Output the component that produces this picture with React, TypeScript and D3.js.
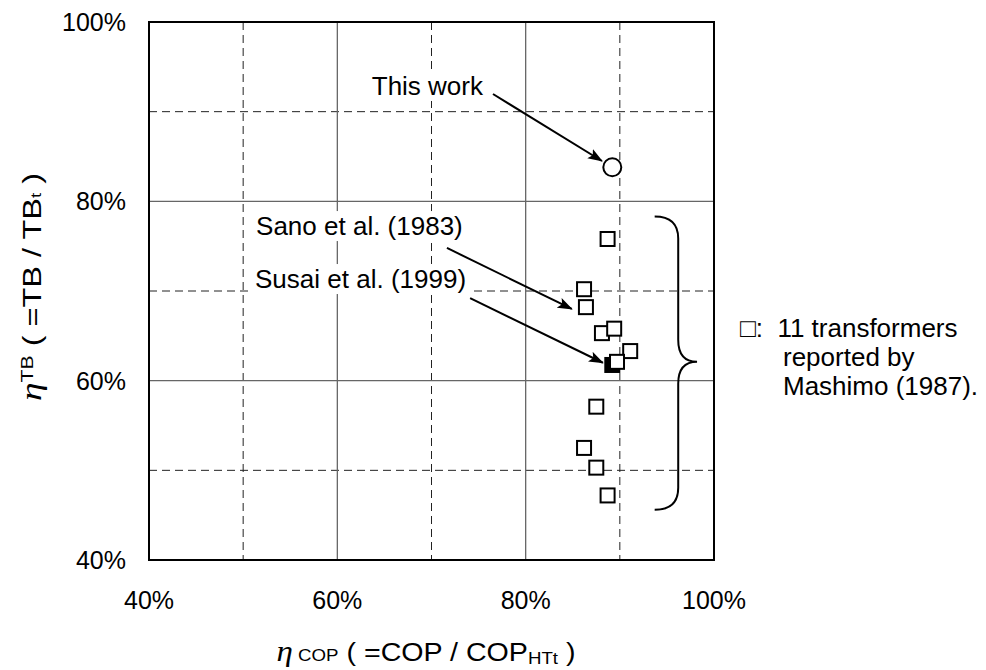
import { useEffect, useRef } from 'react';
import * as d3 from 'd3';

const WIDTH = 986;
const HEIGHT = 670;
const margin = { top: 22, right: 272, bottom: 110, left: 149 };

// axis values (fractions, shown as %)
const X_TICKS = [0.4, 0.6, 0.8, 1.0];
const Y_TICKS = [0.4, 0.6, 0.8, 1.0];
const MAJOR_GRID = [0.6, 0.8];
const MINOR_GRID = [0.5, 0.7, 0.9];

// 11 transformers reported by Mashimo (1987)
const MASHIMO_X = [0.887, 0.862, 0.864, 0.881, 0.894, 0.911, 0.897, 0.875, 0.862, 0.875, 0.887];
const MASHIMO_Y = [0.758, 0.702, 0.682, 0.653, 0.658, 0.633, 0.621, 0.571, 0.525, 0.503, 0.472];

// Susai et al. (1999), filled square
const SUSAI_X = [0.892];
const SUSAI_Y = [0.6175];

// this work, open circle
const THIS_WORK_X = [0.892];
const THIS_WORK_Y = [0.838];

// annotation labels: text, anchor point, arrow start, arrow end
const NOTE_LABELS = ['This work', 'Sano et al. (1983)', 'Susai et al. (1999)'];
const NOTE_ANCHOR: ('start' | 'end')[] = ['end', 'start', 'start'];
const NOTE_TEXT_POS = [[0.7547, 0.9186], [0.5137, 0.7624], [0.5126, 0.7033]];
const NOTE_ARROW_FROM = [[0.7653, 0.9197], [0.7164, 0.748], [0.741, 0.692]];
const NOTE_ARROW_TO = [[0.881, 0.845], [0.849, 0.68], [0.882, 0.62]];

// brace grouping Mashimo's points: x of ends / stem / tip, y of top / tip / bottom
const BRACE_X = [0.937, 0.962, 0.982];
const BRACE_Y = [0.783, 0.621, 0.456];

const LEGEND_LINES = ['\u25A1:  11 transformers', 'reported by', 'Mashimo (1987).'];

const SANS = "'Liberation Sans', Arial, Helvetica, sans-serif";
const SERIF = "'Liberation Serif', 'Times New Roman', serif";

export default function App() {
  const svgRef = useRef<SVGSVGElement>(null);

  useEffect(() => {
    if (!svgRef.current) return;
    const svg = d3.select(svgRef.current);
    svg.selectAll('*').remove();

    const innerW = WIDTH - margin.left - margin.right;
    const innerH = HEIGHT - margin.top - margin.bottom;

    const x = d3.scaleLinear().domain([0.4, 1.0]).range([0, innerW]);
    const y = d3.scaleLinear().domain([0.4, 1.0]).range([innerH, 0]);
    const pct = d3.format('.0%');

    const defs = svg.append('defs');
    defs.append('marker')
      .attr('id', 'arrow-head')
      .attr('viewBox', '0 0 14 10')
      .attr('refX', 13)
      .attr('refY', 5)
      .attr('markerUnits', 'userSpaceOnUse')
      .attr('markerWidth', 15)
      .attr('markerHeight', 11)
      .attr('orient', 'auto')
      .append('path')
      .attr('d', 'M0,0 L14,5 L0,10 L3,5 Z')
      .attr('fill', '#000');

    const g = svg.append('g').attr('transform', `translate(${margin.left},${margin.top})`);

    // grid
    g.selectAll('.vmin').data(MINOR_GRID).join('line')
      .attr('x1', d => x(d)).attr('x2', d => x(d))
      .attr('y1', 0).attr('y2', innerH)
      .attr('stroke', '#222').attr('stroke-width', 1).attr('stroke-dasharray', '8,5');
    g.selectAll('.hmin').data(MINOR_GRID).join('line')
      .attr('y1', d => y(d)).attr('y2', d => y(d))
      .attr('x1', 0).attr('x2', innerW)
      .attr('stroke', '#222').attr('stroke-width', 1).attr('stroke-dasharray', '8,5');
    g.selectAll('.vmaj').data(MAJOR_GRID).join('line')
      .attr('x1', d => x(d)).attr('x2', d => x(d))
      .attr('y1', 0).attr('y2', innerH)
      .attr('stroke', '#666').attr('stroke-width', 1.3);
    g.selectAll('.hmaj').data(MAJOR_GRID).join('line')
      .attr('y1', d => y(d)).attr('y2', d => y(d))
      .attr('x1', 0).attr('x2', innerW)
      .attr('stroke', '#666').attr('stroke-width', 1.3);

    // frame
    g.append('rect')
      .attr('width', innerW).attr('height', innerH)
      .attr('fill', 'none').attr('stroke', '#000').attr('stroke-width', 2);

    // tick labels
    g.selectAll('.xt').data(X_TICKS).join('text')
      .attr('x', d => x(d)).attr('y', innerH + 49)
      .attr('text-anchor', 'middle')
      .attr('font-family', SANS).attr('font-size', 25)
      .text(d => pct(d));
    g.selectAll('.yt').data(Y_TICKS).join('text')
      .attr('x', -23).attr('y', d => y(d) + 9)
      .attr('text-anchor', 'end')
      .attr('font-family', SANS).attr('font-size', 25)
      .text(d => pct(d));

    // arrows
    NOTE_LABELS.forEach((_, i) => {
      g.append('line')
        .attr('x1', x(NOTE_ARROW_FROM[i][0])).attr('y1', y(NOTE_ARROW_FROM[i][1]))
        .attr('x2', x(NOTE_ARROW_TO[i][0])).attr('y2', y(NOTE_ARROW_TO[i][1]))
        .attr('stroke', '#000').attr('stroke-width', 2)
        .attr('marker-end', 'url(#arrow-head)');
    });

    // labels with white backgrounds
    NOTE_LABELS.forEach((label, i) => {
      const t = g.append('text')
        .attr('x', x(NOTE_TEXT_POS[i][0])).attr('y', y(NOTE_TEXT_POS[i][1]))
        .attr('text-anchor', NOTE_ANCHOR[i])
        .attr('font-family', SANS).attr('font-size', 26)
        .text(label);
      const box = (t.node() as SVGTextElement).getBBox();
      g.insert('rect', () => t.node())
        .attr('x', box.x - 3).attr('y', box.y)
        .attr('width', box.width + 6).attr('height', box.height)
        .attr('fill', '#fff');
    });

    // brace
    const bx = BRACE_X.map(x);
    const by = BRACE_Y.map(y);
    const r = 22;
    const p = d3.path();
    p.moveTo(bx[0], by[0]);
    p.quadraticCurveTo(bx[1], by[0], bx[1], by[0] + r);
    p.lineTo(bx[1], by[1] - r);
    p.quadraticCurveTo(bx[1], by[1], bx[2], by[1]);
    p.quadraticCurveTo(bx[1], by[1], bx[1], by[1] + r);
    p.lineTo(bx[1], by[2] - r);
    p.quadraticCurveTo(bx[1], by[2], bx[0], by[2]);
    g.append('path')
      .attr('d', p.toString())
      .attr('fill', 'none').attr('stroke', '#000').attr('stroke-width', 2);

    // points
    const s = 14;
    g.selectAll('.susai').data(SUSAI_X).join('rect')
      .attr('x', (d) => x(d) - s / 2).attr('y', (_, i) => y(SUSAI_Y[i]) - s / 2)
      .attr('width', s).attr('height', s)
      .attr('fill', '#000').attr('stroke', '#000').attr('stroke-width', 2);
    g.selectAll('.mashimo').data(MASHIMO_X).join('rect')
      .attr('x', (d) => x(d) - s / 2).attr('y', (_, i) => y(MASHIMO_Y[i]) - s / 2)
      .attr('width', s).attr('height', s)
      .attr('fill', '#fff').attr('stroke', '#000').attr('stroke-width', 2);
    g.selectAll('.work').data(THIS_WORK_X).join('circle')
      .attr('cx', (d) => x(d)).attr('cy', (_, i) => y(THIS_WORK_Y[i]))
      .attr('r', 9)
      .attr('fill', '#fff').attr('stroke', '#000').attr('stroke-width', 2);

    // legend text on the right
    LEGEND_LINES.forEach((line, i) => {
      svg.append('text')
        .attr('x', i === 0 ? 740 : 783)
        .attr('y', 337 + i * 29)
        .attr('font-family', SANS).attr('font-size', 26)
        .style('white-space', 'pre')
        .text(line);
    });

    // x axis title (the original font is wider than Arial, so stretch it a little)
    const xt = svg.append('text')
      .attr('transform', 'translate(426,661) scale(1.1,1)')
      .attr('text-anchor', 'middle')
      .attr('font-family', SANS).attr('font-size', 26)
      .style('white-space', 'pre');
    xt.append('tspan').attr('font-family', SERIF).attr('font-style', 'italic').attr('font-size', 30).text('\u03B7');
    xt.append('tspan').attr('font-size', 17).text(' COP');
    xt.append('tspan').text(' ( =COP / COP');
    xt.append('tspan').attr('font-size', 17).attr('dy', 3).text('HTt');
    xt.append('tspan').attr('dy', -3).text(' )');

    // y axis title
    const yt = svg.append('text')
      .attr('transform', 'translate(41,287) rotate(-90) scale(1.25,1)')
      .attr('text-anchor', 'middle')
      .attr('font-family', SANS).attr('font-size', 26)
      .style('white-space', 'pre');
    yt.append('tspan').attr('font-family', SERIF).attr('font-style', 'italic').attr('font-size', 30).text('\u03B7');
    yt.append('tspan').attr('font-size', 17).attr('dy', -8).text('TB');
    yt.append('tspan').attr('dy', 8).text(' ( =TB / TB');
    yt.append('tspan').attr('font-size', 15).text('t');
    yt.append('tspan').text(' )');
  }, []);

  return (
    <div style={{ position: 'absolute', left: 0, top: 0 }}>
      <svg ref={svgRef} width={WIDTH} height={HEIGHT} style={{ display: 'block', background: '#fff' }} />
    </div>
  );
}
